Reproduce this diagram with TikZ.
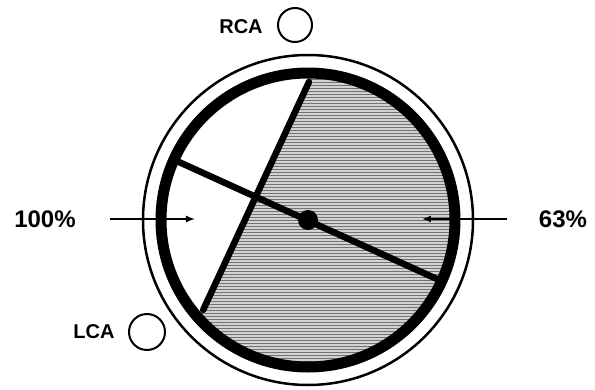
\documentclass[tikz,border=0pt]{standalone}
\usepackage{fontspec}
\setmainfont{Liberation Sans}
\usetikzlibrary{patterns,arrows.meta}
\tikzset{
  lbl/.style={font=\bfseries\fontsize{20}{20}\selectfont, inner sep=0pt},
  pct/.style={font=\bfseries\fontsize{24}{24}\selectfont, inner sep=0pt},
  vessel/.style={draw, line width=2pt, circle, inner sep=0pt},
  axis/.style={line width=6.5pt, line cap=round},
  flow/.style={line width=1.4pt, -{Latex[length=9pt,width=7pt]}}
}
\begin{document}
\begin{tikzpicture}[x=1pt,y=1pt]
  \useasboundingbox (-308,-169) rectangle (287,220);

  % Define node positions
  \coordinate (O) at (0,0);
  \coordinate (P1) at (89.6:138); \coordinate (P2) at (220.6:138);
  \coordinate (Q1) at (155.8:143); \coordinate (Q2) at (-24.6:142);

  % Shaded part
  \fill[gray!35] (89.6:144) arc[start angle=89.6, end angle=-139.4, radius=144] -- cycle;
  \fill[pattern=horizontal lines, pattern color=gray!90!black]
    (89.6:144) arc[start angle=89.6, end angle=-139.4, radius=144] -- cycle;

  % Rings
  \draw[line width=2.5pt] (O) circle[radius=165];
  \draw[line width=11pt] (O) circle[radius=147];

  % Chords and centre
  \draw[axis] (P1) -- (P2);
  \draw[axis] (Q1) -- (Q2);
  \node[circle, fill, minimum size=20pt, inner sep=0pt] (dot) at (O) {};

  % Labels
  \node[pct] (left) at (-263,1) {100\%};
  \node[pct] (right) at (255,1) {63\%};
  \node[lbl] (rca) at (-67,193) {RCA};
  \node[vessel, minimum size=34pt] (rcac) at (-13,195) {};
  \node[lbl] (lca) at (-214,-112) {LCA};
  \node[vessel, minimum size=36pt] (lcac) at (-161,-112) {};

  % Draw arrows
  \coordinate (la) at (-198,1); \coordinate (lb) at (-113,1);
  \coordinate (ra) at (199,1); \coordinate (rb) at (114,1);
  \draw[flow] (la) -- (lb);
  \draw[flow] (ra) -- (rb);
\end{tikzpicture}
\end{document}
